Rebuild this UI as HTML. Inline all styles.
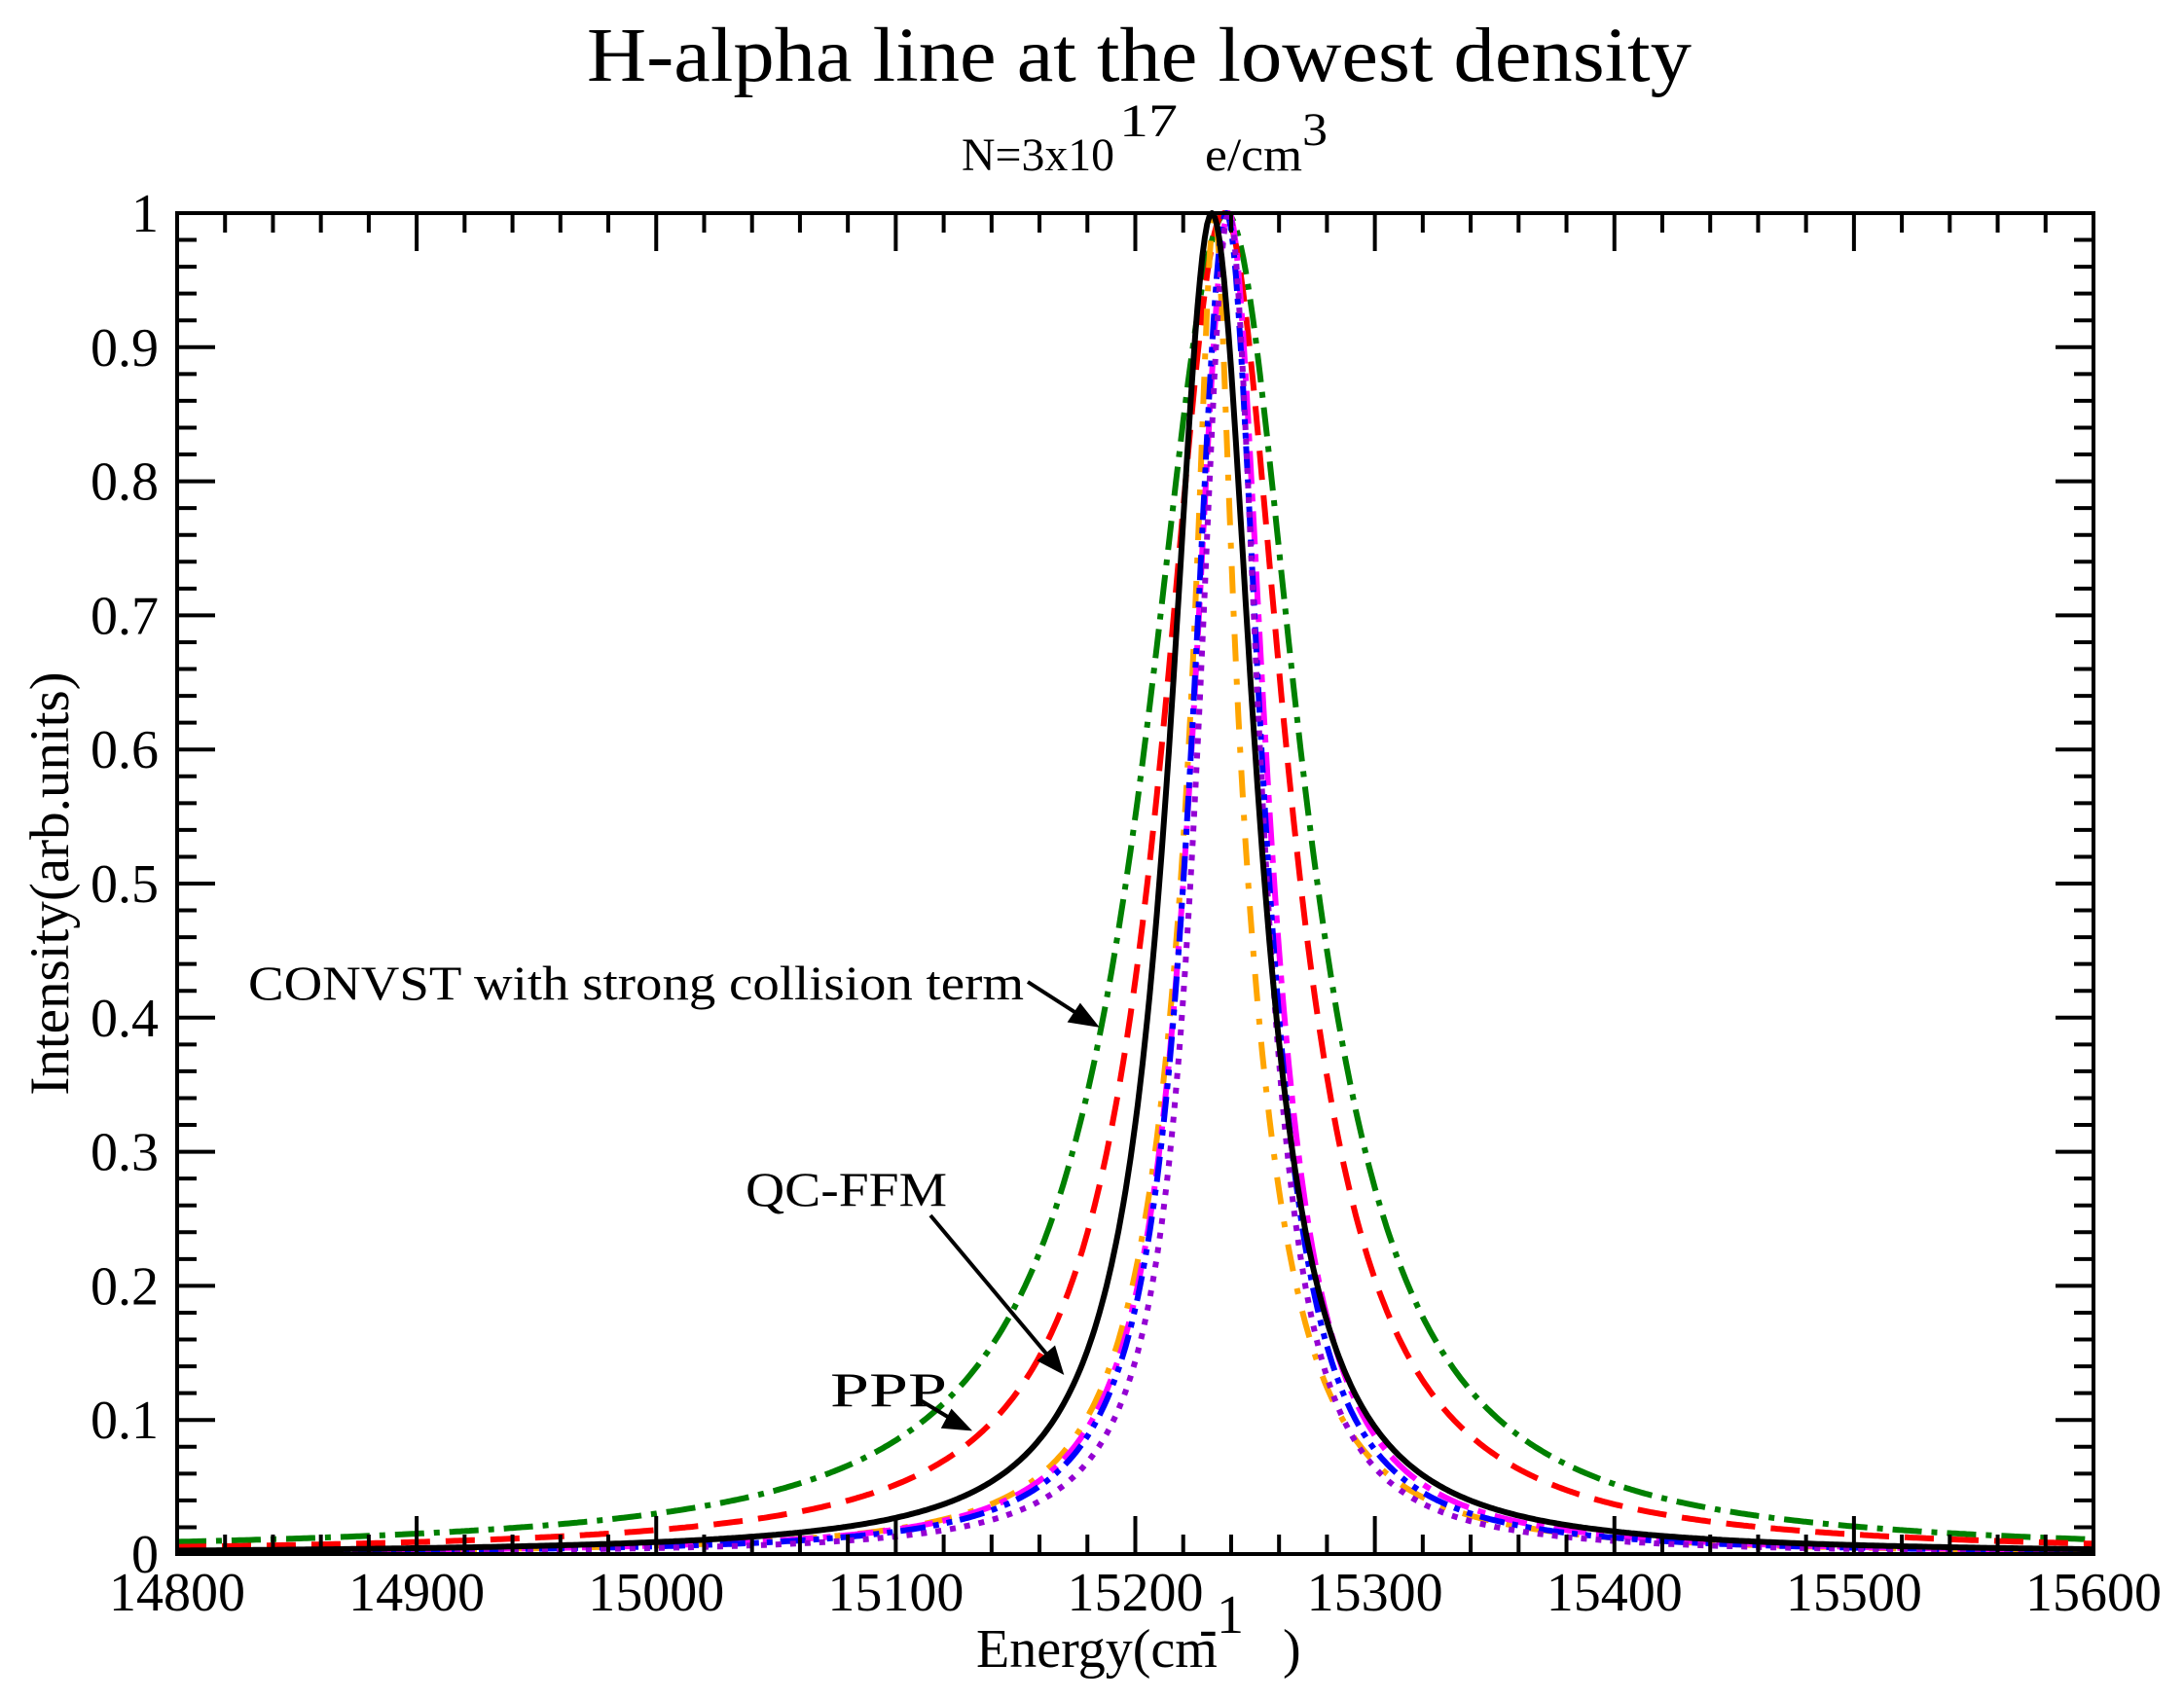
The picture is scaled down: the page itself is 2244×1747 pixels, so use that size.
<!DOCTYPE html>
<html><head><meta charset="utf-8">
<style>
html,body{margin:0;padding:0;background:#fff;}
svg{display:block;}
text{font-family:"Liberation Serif",serif;fill:#000;}
</style></head>
<body>
<svg id="s" width="2244" height="1747" viewBox="0 0 2244 1747" xmlns="http://www.w3.org/2000/svg">
<defs><clipPath id="cp"><rect x="182" y="205" width="1969" height="1392"/></clipPath></defs>
<text x="603" y="83" font-size="79" textLength="1135" lengthAdjust="spacingAndGlyphs">H-alpha line  at the lowest density</text>
<text x="988" y="175" font-size="48" textLength="157" lengthAdjust="spacingAndGlyphs">N=3x10</text>
<text x="1150" y="140" font-size="48" textLength="60" lengthAdjust="spacingAndGlyphs">17</text>
<text x="1238" y="175" font-size="48" textLength="100" lengthAdjust="spacingAndGlyphs">e/cm</text>
<text x="1338" y="149" font-size="48" textLength="26" lengthAdjust="spacingAndGlyphs">3</text>
<g id="curves" clip-path="url(#cp)" fill="none" stroke-width="6"></g>
<g id="axes" stroke="#000" stroke-width="4" fill="none"></g>
<g id="labels" font-size="56"></g>
<text transform="translate(70,908) rotate(-90)" font-size="57" text-anchor="middle">Intensity(arb.units)</text>
<text x="1003" y="1713" font-size="56">Energy(cm</text>
<text x="1232" y="1692" font-size="56">-</text>
<text x="1250" y="1678" font-size="56">1</text>
<text x="1318" y="1713" font-size="56">)</text>
<text x="255" y="1027" font-size="50" textLength="797" lengthAdjust="spacingAndGlyphs">CONVST with strong collision term</text>
<text x="766" y="1239" font-size="50" textLength="207" lengthAdjust="spacingAndGlyphs">QC-FFM</text>
<text x="853" y="1445" font-size="50" textLength="120" lengthAdjust="spacingAndGlyphs">PPP</text>
<g stroke="#000" stroke-width="4" fill="#000">
<line x1="1056" y1="1009" x2="1112" y2="1045"/><polygon points="1125,1053 1100,1049 1110,1034"/>
<line x1="956" y1="1249" x2="1080" y2="1397"/><polygon points="1090,1409 1069,1398 1083,1386"/>
<line x1="944" y1="1438" x2="982" y2="1461"/><polygon points="994,1468 970,1466 978,1451"/>
</g>
</svg>
<script>
var X0=182,X1=2151,Y0=219,Y1=1597;
function px(v){return X0+(v-14800)*(X1-X0)/800;}
function py(v){return Y1-v*(Y1-Y0);}
var ns="http://www.w3.org/2000/svg";
function L(x,w){return 1/(1+(x/w)*(x/w));}
function add(parent,tag,attrs,txt){var e=document.createElementNS(ns,tag);for(var k in attrs)e.setAttribute(k,attrs[k]);if(txt!==undefined)e.textContent=txt;parent.appendChild(e);return e;}
var curves=[
 {c:"#008000",d:"30 10 6 10",f:function(x){var t=x-15238;return L(t,t<0?42:38);}},
 {c:"#ff0000",d:"30 16",f:function(x){return L(x-15237,32);}},
 {c:"#ffa500",d:"28 18 6 18",f:function(x){var t=x-15233;return 0.5*L(t,8)+0.5*L(t,25);}},
 {c:"#ff00ff",d:"34 10 8 10",f:function(x){return L(x-15239,19);}},
 {c:"#0000ff",d:"26 8 6 8 6 8",f:function(x){return L(x-15238,18);}},
 {c:"#9400d3",d:"6 9",f:function(x){return L(x-15239,16);}},
 {c:"#000000",d:"",f:function(x){return L(x-15232,22);}}
];
var g=document.getElementById("curves");
curves.forEach(function(cv){
 var d="";
 for(var x=14800;x<=15600;x+=1){var v=cv.f(x);d+=(x==14800?"M":"L")+px(x).toFixed(1)+","+py(v).toFixed(1);}
 var a={d:d,stroke:cv.c,"stroke-linejoin":"round"};
 if(cv.d)a["stroke-dasharray"]=cv.d;
 add(g,"path",a);
});
var ax=document.getElementById("axes");
add(ax,"rect",{x:X0,y:Y0,width:X1-X0,height:Y1-Y0});
var lb=document.getElementById("labels");
for(var i=0;i<=40;i++){
 var v=14800+i*20,x=px(v),maj=(i%5==0),l=maj?39:20;
 add(ax,"line",{x1:x,y1:Y1,x2:x,y2:Y1-l});
 add(ax,"line",{x1:x,y1:Y0,x2:x,y2:Y0+l});
 if(maj)add(lb,"text",{x:x,y:1655,"text-anchor":"middle"},String(v));
}
for(var i=0;i<=50;i++){
 var v=i*0.02,y=py(v),maj=(i%5==0),l=maj?39:20;
 add(ax,"line",{x1:X0,y1:y,x2:X0+l,y2:y});
 add(ax,"line",{x1:X1,y1:y,x2:X1-l,y2:y});
 if(maj){var s=(i==0)?"0":(i==50?"1":(v.toFixed(1)));add(lb,"text",{x:163,y:y+19,"text-anchor":"end"},s);}
}
</script>
</body></html>
